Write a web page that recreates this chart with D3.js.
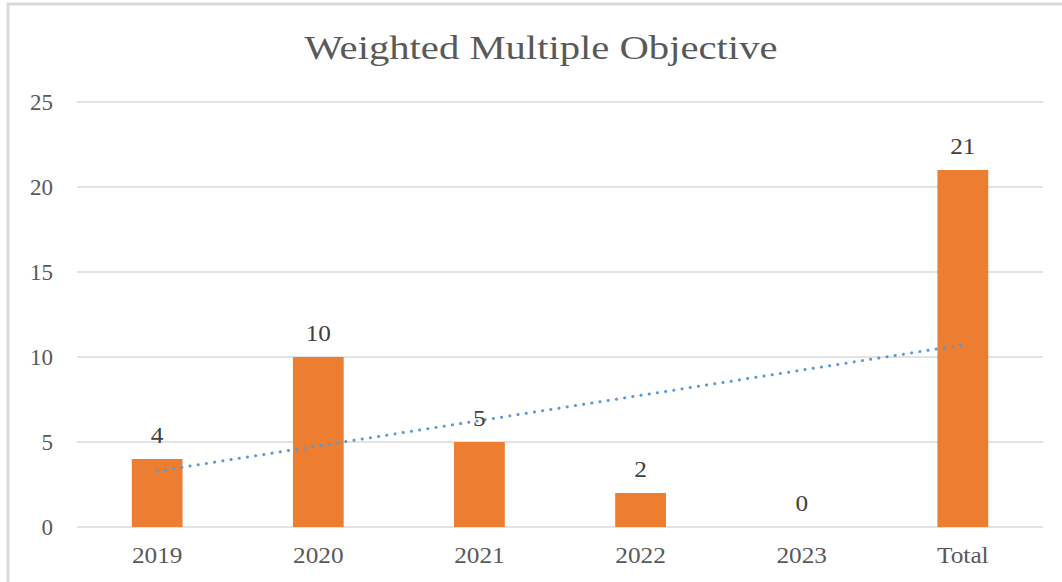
<!DOCTYPE html>
<html>
<head>
<meta charset="utf-8">
<script src="https://cdn.jsdelivr.net/npm/d3@7/dist/d3.min.js"></script>
<style>
  body { margin: 0; background: #fff; }
  text { font-family: "Liberation Serif", "Times New Roman", serif; }
</style>
</head>
<body>
<div id="chart"></div>
<script>
// chart data
var categories = ["2019", "2020", "2021", "2022", "2023", "Total"];
var values = [4, 10, 5, 2, 0, 21];
var yTicks = [0, 5, 10, 15, 20, 25];
var title = "Weighted Multiple Objective";

var width = 1062,
    height = 582;

var svg = d3.select("#chart").append("svg")
    .attr("width", width)
    .attr("height", height);

// chart frame
svg.append("rect")
    .attr("x", 8).attr("y", 4)
    .attr("width", width + 10).attr("height", height + 10)
    .attr("fill", "#fff")
    .attr("stroke", "#d9d9d9")
    .attr("stroke-width", 3);

var x = d3.scaleBand().domain(categories).range([77, 1043]).paddingInner(0.685).paddingOuter(0.34);
var y = d3.scaleLinear().domain([0, 25]).range([527, 102]);

svg.append("text")
    .attr("x", 541).attr("y", 59)
    .attr("text-anchor", "middle")
    .attr("font-size", 33)
    .attr("fill", "#595959")
    .attr("textLength", 473)
    .attr("lengthAdjust", "spacingAndGlyphs")
    .text(title);

// gridlines
svg.selectAll("line.grid").data(yTicks)
    .enter().append("line")
    .attr("class", "grid")
    .attr("x1", 77).attr("x2", 1043)
    .attr("y1", function(d) { return y(d); })
    .attr("y2", function(d) { return y(d); })
    .attr("stroke", "#d9d9d9")
    .attr("stroke-width", 1.5);

// y tick labels
svg.selectAll("text.ytick").data(yTicks)
    .enter().append("text")
    .attr("class", "ytick")
    .attr("x", 53)
    .attr("y", function(d) { return y(d) + 7.5; })
    .attr("text-anchor", "end")
    .attr("font-size", 23)
    .attr("fill", "#595959")
    .text(function(d) { return d; });

var cx = function(i) { return x(categories[i]) + x.bandwidth() / 2; };

// x labels
svg.selectAll("text.xtick").data(categories)
    .enter().append("text")
    .attr("class", "xtick")
    .attr("transform", function(d, i) { return "translate(" + cx(i) + ",563) scale(1.1,1)"; })
    .attr("text-anchor", "middle")
    .attr("font-size", 23)
    .attr("fill", "#595959")
    .text(function(d) { return d; });

// bars
svg.selectAll("rect.bar").data(values)
    .enter().append("rect")
    .attr("class", "bar")
    .attr("x", function(d, i) { return x(categories[i]); })
    .attr("y", function(d) { return y(d); })
    .attr("width", x.bandwidth())
    .attr("height", function(d) { return y(0) - y(d); })
    .attr("fill", "#ed7d31");

// linear trendline (least squares over category index)
var n = values.length;
var mx = d3.mean(values, function(d, i) { return i + 1; });
var my = d3.mean(values);
var sxy = d3.sum(values, function(d, i) { return (i + 1 - mx) * (d - my); });
var sxx = d3.sum(values, function(d, i) { return (i + 1 - mx) * (i + 1 - mx); });
var slope = sxy / sxx, intercept = my - slope * mx;
svg.append("line")
    .attr("x1", cx(0)).attr("y1", y(intercept + slope * 1))
    .attr("x2", cx(n - 1)).attr("y2", y(intercept + slope * n))
    .attr("stroke", "#5b9bd5")
    .attr("stroke-width", 3)
    .attr("stroke-linecap", "round")
    .attr("stroke-dasharray", "0.1 8.2");

// data labels
svg.selectAll("text.label").data(values)
    .enter().append("text")
    .attr("class", "label")
    .attr("transform", function(d, i) { return "translate(" + cx(i) + "," + (y(d) - 16) + ") scale(1.1,1)"; })
    .attr("text-anchor", "middle")
    .attr("font-size", 23)
    .attr("fill", "#404040")
    .text(function(d) { return d; });
</script>
</body>
</html>
